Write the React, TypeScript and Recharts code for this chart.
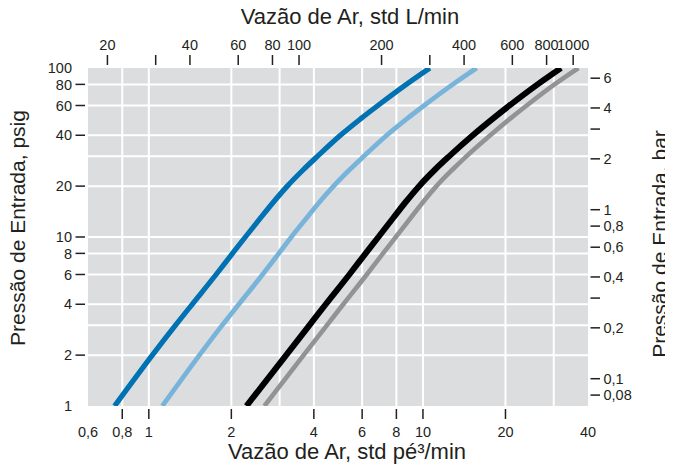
import React from 'react';
import { LineChart, Line, XAxis, YAxis, CartesianGrid } from 'recharts';

const FONT = '"Liberation Sans", Arial, Helvetica, sans-serif';
const INK = '#231f20';

// Inlet pressure (psig) vs air flow (std ft³/min)
const seriesDarkBlue = [
  { x: 0.75, y: 1 }, { x: 1.03, y: 2 }, { x: 1.25, y: 3 }, { x: 1.44, y: 4 },
  { x: 1.76, y: 6 }, { x: 2.02, y: 8 }, { x: 2.25, y: 10 }, { x: 2.56, y: 13 },
  { x: 2.84, y: 16 }, { x: 3.2, y: 20 }, { x: 3.66, y: 25 }, { x: 4.12, y: 30 },
  { x: 5.0, y: 40 }, { x: 5.92, y: 50 }, { x: 6.85, y: 60 }, { x: 8.7, y: 80 },
  { x: 10.6, y: 100 },
];
const seriesLightBlue = [
  { x: 1.12, y: 1 }, { x: 1.53, y: 2 }, { x: 1.85, y: 3 }, { x: 2.13, y: 4 },
  { x: 2.6, y: 6 }, { x: 2.98, y: 8 }, { x: 3.31, y: 10 }, { x: 3.77, y: 13 },
  { x: 4.18, y: 16 }, { x: 4.72, y: 20 }, { x: 5.4, y: 25 }, { x: 6.08, y: 30 },
  { x: 7.38, y: 40 }, { x: 8.73, y: 50 }, { x: 10.1, y: 60 }, { x: 12.85, y: 80 },
  { x: 15.7, y: 100 },
];
const seriesBlack = [
  { x: 2.27, y: 1 }, { x: 3.17, y: 2 }, { x: 3.85, y: 3 }, { x: 4.42, y: 4 },
  { x: 5.39, y: 6 }, { x: 6.18, y: 8 }, { x: 6.88, y: 10 }, { x: 7.8, y: 13 },
  { x: 8.62, y: 16 }, { x: 9.68, y: 20 }, { x: 11.05, y: 25 }, { x: 12.45, y: 30 },
  { x: 15.2, y: 40 }, { x: 17.95, y: 50 }, { x: 20.7, y: 60 }, { x: 26.2, y: 80 },
  { x: 31.9, y: 100 },
];
const seriesGray = [
  { x: 2.64, y: 1 }, { x: 3.67, y: 2 }, { x: 4.46, y: 3 }, { x: 5.12, y: 4 },
  { x: 6.24, y: 6 }, { x: 7.15, y: 8 }, { x: 7.96, y: 10 }, { x: 9.03, y: 13 },
  { x: 9.98, y: 16 }, { x: 11.2, y: 20 }, { x: 12.8, y: 25 }, { x: 14.4, y: 30 },
  { x: 17.6, y: 40 }, { x: 20.75, y: 50 }, { x: 23.9, y: 60 }, { x: 30.2, y: 80 },
  { x: 36.9, y: 100 },
];

// unit conversions for secondary axes
const LPM_PER_CFM = 28.3168;
const PSI_PER_BAR = 14.5038;

const cfmDomain = [0.6, 40];
const psigDomain = [1, 100];
const lpmDomain = [cfmDomain[0] * LPM_PER_CFM, cfmDomain[1] * LPM_PER_CFM];
const barDomain = [psigDomain[0] / PSI_PER_BAR, psigDomain[1] / PSI_PER_BAR];

const cfmTicks = [0.6, 0.8, 1, 2, 4, 6, 8, 10, 20, 40];
const cfmTickLines = [0.8, 1, 2, 4, 6, 8, 10, 20];
const cfmGrid = [0.8, 1, 2, 3, 4, 6, 8, 10, 20, 30];

const psigTicks = [1, 2, 4, 6, 8, 10, 20, 40, 60, 80, 100];
const psigTickLines = [2, 4, 6, 8, 10, 20, 40, 60, 80];
const psigGrid = [2, 3, 4, 6, 8, 10, 20, 30, 40, 60, 80];

const lpmTicks = [20, 30, 40, 60, 80, 100, 200, 300, 400, 600, 800, 1000];
const lpmLabels = [20, 40, 60, 80, 100, 200, 400, 600, 800, 1000];

const barTicks = [0.08, 0.1, 0.2, 0.3, 0.4, 0.6, 0.8, 1, 2, 3, 4, 6];
const barLabels = [0.08, 0.1, 0.2, 0.4, 0.6, 0.8, 1, 2, 4, 6];

const anchorPoint = [{ x: 100, y: 1 }, { x: 200, y: 2 }];

const fmt = (v: number) => String(v).replace('.', ',');

type Orient = 'top' | 'bottom' | 'left' | 'right';

function makeTick(orient: Orient, lineVals: number[], labelVals: number[]) {
  return (props: any) => {
    const { x, y, payload } = props;
    const v = payload.value;
    const hasLine = lineVals.includes(v);
    const hasLabel = labelVals.includes(v);
    const textProps = { fontFamily: FONT, fontSize: 14.5, fill: INK };
    let l: any = null;
    let t: any = null;
    if (orient === 'left') {
      if (hasLine) l = <line x1={x - 12.5} x2={x - 3} y1={y} y2={y} stroke={INK} strokeWidth={1.5} />;
      if (hasLabel) t = <text {...textProps} x={x - 16} y={y} dy="0.36em" textAnchor="end">{fmt(v)}</text>;
    } else if (orient === 'right') {
      if (hasLine) l = <line x1={x + 2.5} x2={x + 12} y1={y} y2={y} stroke={INK} strokeWidth={1.5} />;
      if (hasLabel) t = <text {...textProps} x={x + 15.5} y={y} dy="0.36em" textAnchor="start">{fmt(v)}</text>;
    } else if (orient === 'top') {
      if (hasLine) l = <line x1={x} x2={x} y1={y - 13} y2={y - 3} stroke={INK} strokeWidth={1.5} />;
      if (hasLabel) t = <text {...textProps} x={x} y={y - 18} textAnchor="middle">{fmt(v)}</text>;
    } else {
      if (hasLine) l = <line x1={x} x2={x} y1={y + 3} y2={y + 13} stroke={INK} strokeWidth={1.5} />;
      if (hasLabel) t = <text {...textProps} x={x} y={y + 31} textAnchor="middle">{fmt(v)}</text>;
    }
    return <g>{l}{t}</g>;
  };
}

function Title(props: any) {
  const { tx, ty, rot, text, size } = props;
  return (
    <text
      x={tx}
      y={ty}
      textAnchor="middle"
      fontFamily={FONT}
      fontSize={size}
      fill={INK}
      transform={rot ? `rotate(-90 ${tx} ${ty})` : undefined}
    >
      {text}
    </text>
  );
}

export default function App() {
  return (
    <div style={{ marginLeft: -8, marginTop: -8, width: 673, height: 468 }}>
      <LineChart
        width={673}
        height={468}
        margin={{ top: 0, right: 0, bottom: 0, left: 0 }}
        style={{ fontFamily: FONT }}
      >
        <CartesianGrid
          xAxisId="b"
          yAxisId="l"
          verticalValues={cfmGrid}
          horizontalValues={psigGrid}
          stroke="#ffffff"
          strokeWidth={2}
          fill="#dcdddf"
          fillOpacity={1}
        />
        <XAxis
          xAxisId="b"
          dataKey="x"
          type="number"
          scale="log"
          domain={cfmDomain}
          allowDataOverflow
          ticks={cfmTicks}
          interval={0}
          orientation="bottom"
          height={62}
          axisLine={false}
          tickLine={false}
          tickSize={0}
          tickMargin={0}
          tick={makeTick('bottom', cfmTickLines, cfmTicks)}
          label={<Title tx={347} ty={459} size={22} text="Vazão de Ar, std pé³/min" />}
        />
        <XAxis
          xAxisId="t"
          dataKey="x"
          type="number"
          scale="log"
          domain={lpmDomain}
          allowDataOverflow
          ticks={lpmTicks}
          interval={0}
          orientation="top"
          height={68}
          axisLine={false}
          tickLine={false}
          tickSize={0}
          tickMargin={0}
          tick={makeTick('top', lpmTicks, lpmLabels)}
          label={<Title tx={350} ty={24} size={22} text="Vazão de Ar, std L/min" />}
        />
        <YAxis
          yAxisId="l"
          type="number"
          scale="log"
          domain={psigDomain}
          allowDataOverflow
          ticks={psigTicks}
          interval={0}
          orientation="left"
          width={88}
          axisLine={false}
          tickLine={false}
          tickSize={0}
          tickMargin={0}
          tick={makeTick('left', psigTickLines, psigTicks)}
          label={<Title tx={25} ty={228} rot size={21} text="Pressão de Entrada, psig" />}
        />
        <YAxis
          yAxisId="r"
          type="number"
          scale="log"
          domain={barDomain}
          allowDataOverflow
          ticks={barTicks}
          interval={0}
          orientation="right"
          width={85}
          axisLine={false}
          tickLine={false}
          tickSize={0}
          tickMargin={0}
          tick={makeTick('right', barTicks, barLabels)}
          label={<Title tx={667} ty={244} rot size={21} text="Pressão de Entrada, bar" />}
        />
        <Line xAxisId="t" yAxisId="r" data={anchorPoint} dataKey="y" hide stroke="none" dot={false} activeDot={false} isAnimationActive={false} />
        <Line xAxisId="b" yAxisId="l" data={seriesGray} dataKey="y" type="monotone" stroke="#939393" strokeWidth={4.6} dot={false} activeDot={false} isAnimationActive={false} />
        <Line xAxisId="b" yAxisId="l" data={seriesBlack} dataKey="y" type="monotone" stroke="#000000" strokeWidth={6} dot={false} activeDot={false} isAnimationActive={false} />
        <Line xAxisId="b" yAxisId="l" data={seriesLightBlue} dataKey="y" type="monotone" stroke="#78b4d9" strokeWidth={4.8} dot={false} activeDot={false} isAnimationActive={false} />
        <Line xAxisId="b" yAxisId="l" data={seriesDarkBlue} dataKey="y" type="monotone" stroke="#0071b2" strokeWidth={5.2} dot={false} activeDot={false} isAnimationActive={false} />
      </LineChart>
    </div>
  );
}
